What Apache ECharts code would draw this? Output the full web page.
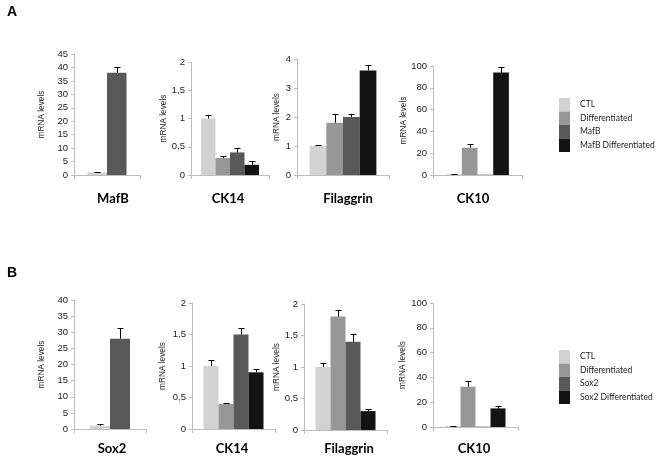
<!DOCTYPE html>
<html>
<head>
<meta charset="utf-8">
<script src="https://cdn.jsdelivr.net/npm/echarts@6/dist/echarts.min.js"></script>
<style>html,body{margin:0;padding:0;background:#fff}#c{width:661px;height:459px}</style>
</head>
<body>
<div id="c"></div>
<script>
// ---------- DATA ----------
const panelLabels = ['A', 'B'];
const legendA = ['CTL', 'Differentiated', 'MafB', 'MafB Differentiated'];
const legendB = ['CTL', 'Differentiated', 'Sox2', 'Sox2 Differentiated'];

const A_MafB_groups = ['CTL', 'MafB'];
const A_MafB_values = [1, 38];
const A_MafB_errors = [0.3, 2];

const A_CK14_values = [1.0, 0.3, 0.4, 0.18];
const A_CK14_errors = [0.07, 0.03, 0.07, 0.06];

const A_Fil_values = [1.0, 1.8, 2.0, 3.6];
const A_Fil_errors = [0.03, 0.3, 0.12, 0.2];

const A_CK10_values = [0.8, 25, 0.3, 94];
const A_CK10_errors = [0.3, 3, 0, 5];

const B_Sox2_groups = ['CTL', 'Sox2'];
const B_Sox2_values = [1, 28];
const B_Sox2_errors = [0.5, 3.2];

const B_CK14_values = [1.0, 0.4, 1.5, 0.9];
const B_CK14_errors = [0.1, 0.01, 0.1, 0.06];

const B_Fil_values = [1.0, 1.8, 1.4, 0.3];
const B_Fil_errors = [0.06, 0.1, 0.13, 0.03];

const B_CK10_values = [0.8, 32.5, 0.3, 15];
const B_CK10_errors = [0.3, 5, 0, 2];

const geneTitles = ['MafB', 'CK14', 'Filaggrin', 'CK10', 'Sox2', 'CK14', 'Filaggrin', 'CK10'];
const yMax = [45, 2, 4, 100, 40, 2, 2, 100];
const yStep = [5, 0.5, 1, 20, 5, 0.5, 0.5, 20];

// ---------- STYLE / LAYOUT ----------
const colorOf = {
  'CTL': '#d2d2d2', 'Differentiated': '#979797',
  'MafB': '#595959', 'MafB Differentiated': '#131313',
  'Sox2': '#595959', 'Sox2 Differentiated': '#131313'
};
const panels = [
  { groups: A_MafB_groups, values: A_MafB_values, errors: A_MafB_errors, grid: {left: 74, top: 54, width: 66, height: 121}, bw: 19.5, gap: 28, tx: 113, ty: 199 },
  { groups: legendA, values: A_CK14_values, errors: A_CK14_errors, grid: {left: 191, top: 62, width: 78, height: 113}, bw: 14.5, gap: 23, tx: 228, ty: 199 },
  { groups: legendA, values: A_Fil_values, errors: A_Fil_errors, grid: {left: 297, top: 59, width: 92, height: 116}, bw: 16.7, gap: 16, tx: 348, ty: 199 },
  { groups: legendA, values: A_CK10_values, errors: A_CK10_errors, grid: {left: 433, top: 66, width: 89, height: 109}, bw: 15.7, gap: 25, tx: 473, ty: 199 },
  { groups: B_Sox2_groups, values: B_Sox2_values, errors: B_Sox2_errors, grid: {left: 74, top: 300, width: 72, height: 129}, bw: 20, gap: 28, tx: 112, ty: 449 },
  { groups: legendB, values: B_CK14_values, errors: B_CK14_errors, grid: {left: 192, top: 303, width: 83, height: 126}, bw: 15, gap: 25, tx: 232, ty: 449 },
  { groups: legendB, values: B_Fil_values, errors: B_Fil_errors, grid: {left: 304, top: 304, width: 83, height: 126}, bw: 15, gap: 23, tx: 349, ty: 449 },
  { groups: legendB, values: B_CK10_values, errors: B_CK10_errors, grid: {left: 433, top: 303, width: 85, height: 124}, bw: 15, gap: 26, tx: 474, ty: 449 }
];

const axisGray = '#bdbdbd';
const grids = [], xAxes = [], yAxes = [], series = [], graphics = [];

panels.forEach((p, i) => {
  grids.push(Object.assign({containLabel: false}, p.grid));
  xAxes.push({
    type: 'category', gridIndex: i, data: [''],
    axisLine: {lineStyle: {color: axisGray, width: 1}},
    axisTick: {show: true, length: 4, lineStyle: {color: axisGray}},
    axisLabel: {show: false}
  });
  yAxes.push({
    type: 'value', gridIndex: i, min: 0, max: yMax[i], interval: yStep[i],
    name: 'mRNA levels', nameLocation: 'middle', nameGap: p.gap,
    nameTextStyle: {fontFamily: 'Liberation Sans', fontSize: 8.3, color: '#222'},
    axisLine: {show: true, lineStyle: {color: axisGray, width: 1}},
    axisTick: {show: true, length: 3, lineStyle: {color: axisGray}},
    splitLine: {show: false},
    axisLabel: {
      fontFamily: 'Liberation Sans', fontSize: 9.5, color: '#222', margin: 6,
      formatter: v => String(v).replace('.', ',')
    }
  });
  const n = p.groups.length;
  p.groups.forEach((g, k) => {
    const data = [p.values[k]];
    series.push({
      type: 'bar', name: g, xAxisIndex: i, yAxisIndex: i, data: data,
      barWidth: p.bw, barGap: '0%',
      itemStyle: {color: colorOf[g]}, animation: false
    });
  });
  series.push({
    type: 'custom', xAxisIndex: i, yAxisIndex: i, z: 10, animation: false,
    data: p.values.map((v, k) => [0, v, p.errors[k], k]),
    encode: {x: 0, y: 1},
    renderItem: (params, api) => {
      const k = api.value(3), v = api.value(1), e = api.value(2);
      if (!e) return null;
      const base = api.coord([0, v]);
      const top = api.coord([0, v + e]);
      const cx = Math.round(base[0] + (k - (n - 1) / 2) * p.bw) + 0.5;
      const ty = Math.round(top[1]) + 0.5;
      return {
        type: 'group', children: [
          {type: 'line', shape: {x1: cx, y1: base[1], x2: cx, y2: ty}, style: {stroke: '#000', lineWidth: 1}},
          {type: 'line', shape: {x1: cx - 3, y1: ty, x2: cx + 3, y2: ty}, style: {stroke: '#000', lineWidth: 1}}
        ]
      };
    }
  });
  graphics.push({
    type: 'text', x: p.tx, y: p.ty,
    style: {text: geneTitles[i], align: 'center', verticalAlign: 'middle',
      font: 'bold 13px Lato', fill: '#000'}
  });
});

graphics.push({type: 'text', x: 7, y: 12, style: {text: panelLabels[0], verticalAlign: 'middle', font: 'bold 14px "Liberation Sans"', fill: '#000'}});
graphics.push({type: 'text', x: 7, y: 273, style: {text: panelLabels[1], verticalAlign: 'middle', font: 'bold 14px "Liberation Sans"', fill: '#000'}});

const legendCommon = {
  orient: 'vertical', icon: 'rect', itemWidth: 11, itemHeight: 13.5, itemGap: 0, padding: 0,
  selectedMode: false,
  textStyle: {fontFamily: 'Lato', fontSize: 8.5, color: '#222', lineHeight: 13.5, padding: [0, 0, 0, 5]}
};

const option = {
  backgroundColor: '#fff',
  animation: false,
  grid: grids, xAxis: xAxes, yAxis: yAxes, series: series,
  legend: [
    Object.assign({left: 559, top: 98, data: legendA}, legendCommon),
    Object.assign({left: 559, top: 350, data: legendB}, legendCommon)
  ],
  graphic: graphics
};

const chart = echarts.init(document.getElementById('c'), null, {renderer: 'canvas'});
chart.setOption(option);
</script>
</body>
</html>
